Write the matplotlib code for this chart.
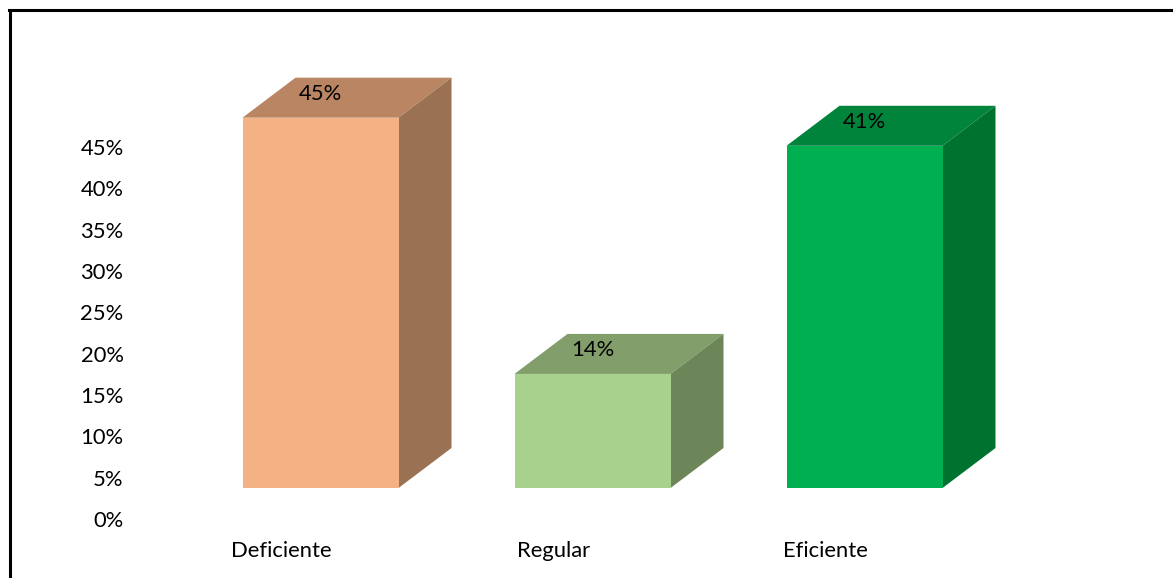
import numpy as np
import matplotlib
matplotlib.use("Agg")
import matplotlib.pyplot as plt
from matplotlib.lines import Line2D
from matplotlib.transforms import ScaledTranslation

categories = ["Deficiente", "Regular", "Eficiente"]
values = [44.8, 13.8, 41.4]
front_colors = ["#F4B183", "#A9D18E", "#00B050"]
top_colors = ["#B98562", "#819E6B", "#00843C"]
side_colors = ["#9A7152", "#6C8559", "#00722F"]
yticks = [0, 5, 10, 15, 20, 25, 30, 35, 40, 45]

W, H = 1173, 578
px_x = 272.0         # pixels per category
px_y = 41.33 / 5     # pixels per percent
bar_w = 156 / px_x
floor = 32 / px_y    # bars sit above the zero line in the 3d view
dx = 53 / px_x
dy = 40 / px_y

plt.rcParams['font.family'] = ['Lato', 'DejaVu Sans']

fig = plt.figure(figsize=(W / 100, H / 100), dpi=100)
ax = fig.add_axes([130.5 / W, (H - 520) / H, (W - 130.5) / W, (520 - 12) / H])
ax.set_xlim((130 - 320) / px_x, (W - 130.5 + 130 - 320) / px_x)
ax.set_ylim(0, 508 / px_y)

x = np.arange(len(categories))
ax.bar(x, values, bar_w, bottom=floor, color=front_colors, zorder=3)
for i in x:
    l = i - bar_w / 2
    r = i + bar_w / 2
    b = floor
    t = floor + values[i]
    ax.fill([l, r, r + dx, l + dx], [t, t, t + dy, t + dy], color=top_colors[i], lw=0, zorder=2)
    ax.fill([r, r + dx, r + dx, r], [b, b + dy, t + dy, t], color=side_colors[i], lw=0, zorder=2)
    ax.text(i, t + 24 / px_y, "{:.0f}%".format(values[i]), ha="center", va="center",
            fontsize=15.8, color="black", zorder=4)

ax.set_yticks(yticks)
ax.set_yticklabels(["{}%".format(v) for v in yticks])
ax.set_xticks(x - 39 / px_x)
ax.set_xticklabels(categories)
ax.tick_params(axis="both", length=0, labelsize=15.8, labelcolor="black")
ax.tick_params(axis="y", pad=5)
ax.tick_params(axis="x", pad=15)
# nudge y labels up a pixel
nudge = ScaledTranslation(0, 1 / 100, fig.dpi_scale_trans)
for lab in ax.get_yticklabels():
    lab.set_transform(lab.get_transform() + nudge)
for s in ax.spines.values():
    s.set_visible(False)

# outer frame, cut off by the crop at right and bottom
fig.add_artist(Line2D([9.5 / W, 9.5 / W], [0, (H - 10) / H], color="black", lw=2.2))
fig.add_artist(Line2D([8.5 / W, 1], [(H - 10) / H, (H - 10) / H], color="black", lw=2.2))

fig.savefig("out.png", dpi=100)
